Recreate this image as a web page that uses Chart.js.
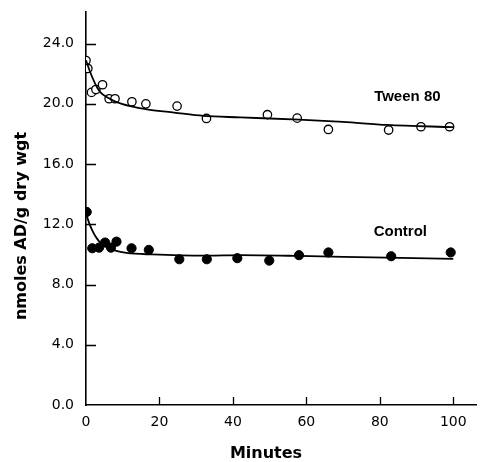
<!DOCTYPE html>
<html>
<head>
<meta charset="utf-8">
<script src="https://cdn.jsdelivr.net/npm/chart.js@4"></script>
<style>
  html, body { margin: 0; padding: 0; background: #fff; }
  canvas { display: block; }
</style>
</head>
<body>
<canvas id="c" width="482" height="462"></canvas>
<script>
// Observed data (minutes, nmoles AD/g dry wgt)
const tweenMinutes = [0, 0.5, 1.5, 2.7, 4.5, 6.3, 7.9, 12.5, 16.3, 24.8, 32.8, 49.4, 57.5, 66.0, 82.4, 91.2, 99.0];
const tweenValues  = [22.88, 22.35, 20.76, 20.95, 21.27, 20.34, 20.34, 20.14, 20.0, 19.85, 19.03, 19.28, 19.05, 18.30, 18.26, 18.48, 18.48];

const controlMinutes = [0.2, 1.7, 3.55, 5.2, 6.8, 8.3, 12.4, 17.1, 25.4, 32.9, 41.2, 49.9, 58.0, 66.0, 83.1, 99.3];
const controlValues  = [12.82, 10.41, 10.45, 10.79, 10.45, 10.85, 10.41, 10.30, 9.68, 9.68, 9.75, 9.59, 9.95, 10.13, 9.88, 10.13];

// Fitted curves
const tweenCurveMinutes = [0, 1, 2, 3, 4, 6, 8, 12, 17, 24, 32, 42, 58, 70, 82, 100];
const tweenCurveValues  = [22.9, 22.2, 21.6, 21.1, 20.75, 20.4, 20.15, 19.85, 19.62, 19.42, 19.2, 19.1, 18.95, 18.8, 18.6, 18.45];

const controlCurveMinutes = [0, 1, 2, 3, 4, 6, 8, 11, 18, 33, 42, 58, 78, 100];
const controlCurveValues  = [12.7, 12.0, 11.45, 11.05, 10.75, 10.45, 10.25, 10.1, 10.0, 9.92, 9.95, 9.9, 9.8, 9.7];

const xTicks = [0, 20, 40, 60, 80, 100];
const yTicks = [0, 4, 8, 12, 16, 20, 24];

const seriesLabels = ['Tween 80', 'Control'];
const xTitle = 'Minutes';
const yTitle = 'nmoles AD/g dry wgt';

const pts = (xs, ys) => xs.map((x, i) => ({ x: x, y: ys[i] }));

const annot = {
  id: 'annot',
  afterDraw(chart) {
    const ctx = chart.ctx;
    const xs = chart.scales.x, ys = chart.scales.y;
    const area = chart.chartArea;
    ctx.save();
    // inward tick marks
    ctx.strokeStyle = '#000';
    ctx.lineWidth = 1.3;
    ctx.beginPath();
    xTicks.forEach(v => {
      if (v === 0) return;
      const px = Math.round(xs.getPixelForValue(v)) + 0.5;
      ctx.moveTo(px, area.bottom);
      ctx.lineTo(px, area.bottom - 8);
    });
    yTicks.forEach(v => {
      if (v === 0) return;
      const py = Math.round(ys.getPixelForValue(v)) + 0.5;
      ctx.moveTo(area.left, py);
      ctx.lineTo(area.left + 10, py);
    });
    ctx.stroke();

    ctx.fillStyle = '#000';
    // series labels
    ctx.font = 'bold 15px "Liberation Sans", Arial, sans-serif';
    ctx.textAlign = 'center';
    ctx.textBaseline = 'alphabetic';
    ctx.fillText(seriesLabels[0], xs.getPixelForValue(87.5), ys.getPixelForValue(20.2));
    ctx.fillText(seriesLabels[1], xs.getPixelForValue(85.6), ys.getPixelForValue(11.2));

    // axis titles
    ctx.font = 'bold 16px "DejaVu Sans", sans-serif';
    ctx.textBaseline = 'middle';
    ctx.fillText(xTitle, 266, 454);
    ctx.translate(22, 226);
    ctx.rotate(-Math.PI / 2);
    ctx.fillText(yTitle, 0, 0);
    ctx.restore();
  }
};

new Chart(document.getElementById('c'), {
  type: 'scatter',
  data: {
    datasets: [
      {
        label: seriesLabels[0] + ' fit',
        type: 'line',
        data: pts(tweenCurveMinutes, tweenCurveValues),
        borderColor: '#000',
        borderWidth: 1.8,
        pointRadius: 0,
        cubicInterpolationMode: 'monotone',
        fill: false
      },
      {
        label: seriesLabels[1] + ' fit',
        type: 'line',
        data: pts(controlCurveMinutes, controlCurveValues),
        borderColor: '#000',
        borderWidth: 1.8,
        pointRadius: 0,
        cubicInterpolationMode: 'monotone',
        fill: false
      },
      {
        label: seriesLabels[0],
        data: pts(tweenMinutes, tweenValues),
        pointRadius: 4.2,
        pointBorderWidth: 1.3,
        pointBorderColor: '#000',
        pointBackgroundColor: '#fff'
      },
      {
        label: seriesLabels[1],
        data: pts(controlMinutes, controlValues),
        pointRadius: 4.6,
        pointBorderWidth: 1,
        pointBorderColor: '#000',
        pointBackgroundColor: '#000'
      }
    ]
  },
  options: {
    responsive: false,
    animation: false,
    layout: { padding: { top: 12, right: 2, left: 0, bottom: 0 } },
    plugins: { legend: { display: false }, tooltip: { enabled: false } },
    scales: {
      x: {
        type: 'linear',
        min: 0,
        max: 106.3,
        afterBuildTicks: s => { s.ticks = xTicks.map(v => ({ value: v })); },
        afterFit: s => { s.height = 57; s.paddingLeft = 0; s.paddingRight = 0; },
        grid: { display: false, drawTicks: false },
        border: { display: true, color: '#000', width: 1.6 },
        ticks: {
          padding: 9,
          color: '#000',
          font: { family: '"DejaVu Sans", sans-serif', size: 14 },
          callback: v => String(v)
        }
      },
      y: {
        type: 'linear',
        min: 0,
        max: 26.1,
        afterBuildTicks: s => { s.ticks = yTicks.map(v => ({ value: v })); },
        afterFit: s => { s.width = 86; s.paddingTop = 0; s.paddingBottom = 0; },
        grid: { display: false, drawTicks: false },
        border: { display: true, color: '#000', width: 1.6 },
        ticks: {
          padding: 12,
          color: '#000',
          font: { family: '"DejaVu Sans", sans-serif', size: 14 },
          callback: v => Number(v).toFixed(1)
        }
      }
    }
  },
  plugins: [annot]
});
</script>
</body>
</html>
